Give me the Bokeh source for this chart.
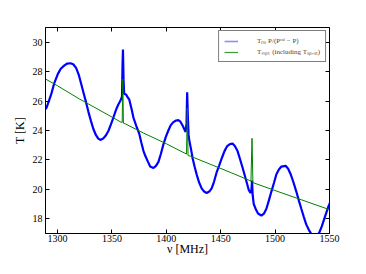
from bokeh.plotting import figure
from bokeh.models import Range1d, LinearAxis, FixedTicker, Legend, LegendItem
from bokeh.embed import file_html
from bokeh.resources import INLINE

# Blue: T_ns P / (P^cal - P)
freq_blue = [1289.0, 1290.0, 1294.2, 1297.0, 1300.3, 1303.0, 1306.4, 1309.0, 1311.9, 1314.5,
             1317.1, 1319.5, 1321.7, 1324.0, 1326.3, 1328.5, 1330.8, 1333.0, 1335.4, 1337.5,
             1339.4, 1342.0, 1344.6, 1347.0, 1349.2, 1351.5, 1353.7, 1355.8, 1357.7, 1359.3,
             1359.8, 1360.2, 1360.7, 1361.3, 1362.9, 1365.0, 1365.9, 1368.0, 1369.9, 1372.5,
             1375.1, 1377.0, 1379.0, 1380.6, 1383.0, 1385.2, 1388.2, 1390.5, 1392.8, 1395.0,
             1397.3, 1399.5, 1401.9, 1404.0, 1406.5, 1409.0, 1411.1, 1413.0, 1415.1, 1416.8,
             1417.8, 1418.6, 1419.2, 1419.8, 1420.5, 1421.1, 1422.8, 1424.3, 1426.0, 1427.9,
             1430.0, 1432.5, 1434.8, 1437.1, 1439.5, 1441.7, 1444.0, 1446.2, 1448.5, 1450.8,
             1453.5, 1456.0, 1458.5, 1460.9, 1463.0, 1465.5, 1467.6, 1470.0, 1472.2, 1474.0,
             1475.8, 1477.4, 1478.3, 1478.8, 1479.4, 1480.4, 1482.3, 1484.3, 1487.4, 1489.7,
             1492.0, 1494.3, 1496.6, 1499.0, 1501.2, 1503.5, 1505.8, 1509.7, 1512.0, 1514.3,
             1517.0, 1519.5, 1521.8, 1524.1, 1526.3, 1528.6, 1531.0, 1533.2, 1536.3, 1538.5,
             1540.8, 1543.0, 1545.4, 1549.1, 1550.5]
temp_blue = [25.45, 25.55, 26.45, 27.2, 27.83, 28.2, 28.43, 28.55, 28.57, 28.5,
             28.26, 27.8, 27.19, 26.55, 25.91, 25.25, 24.64, 24.1, 23.68, 23.45,
             23.36, 23.45, 23.68, 24.0, 24.43, 24.9, 25.38, 25.75, 26.0, 26.3,
             28.5, 29.5, 27.5, 26.5, 26.45, 26.2, 26.13, 25.5, 24.85, 24.3,
             23.79, 23.2, 22.62, 22.3, 21.9, 21.56, 21.45, 21.6, 21.87, 22.4,
             23.04, 23.55, 24.0, 24.35, 24.57, 24.68, 24.7, 24.6, 24.32, 24.05,
             23.9, 24.5, 26.6, 25.0, 23.7, 23.36, 22.7, 22.08, 21.55, 21.02,
             20.5, 20.07, 19.85, 19.75, 19.85, 20.07, 20.55, 21.13, 21.6, 22.08,
             22.6, 22.94, 23.08, 23.11, 22.95, 22.6, 22.1, 21.5, 20.92, 20.45,
             19.96, 19.75, 20.0, 20.6, 19.6, 19.0, 18.65, 18.36, 18.22, 18.35,
             18.68, 19.25, 19.85, 20.45, 21.03, 21.35, 21.55, 21.6, 21.4, 21.03,
             20.45, 19.85, 19.25, 18.68, 18.15, 17.62, 17.25, 16.98, 16.77, 16.85,
             17.09, 17.5, 18.04, 18.86, 19.1]

# Green: T_inpt (including T_sp,st)
freq_green = [1289.0, 1300.0, 1320.0, 1340.0, 1358.3, 1359.5, 1360.0, 1360.6, 1362.9, 1379.0,
              1400.0, 1417.2, 1418.6, 1419.3, 1420.0, 1422.0, 1440.0, 1460.0, 1476.7, 1477.8,
              1478.8, 1479.6, 1480.7, 1500.0, 1520.0, 1550.0]
temp_green = [27.5, 27.04, 26.15, 25.33, 24.57, 24.55, 27.5, 24.5, 24.43, 23.83,
              23.1, 22.45, 22.4, 25.5, 22.3, 22.26, 21.72, 21.12, 20.6, 20.55,
              23.47, 20.45, 20.43, 19.92, 19.4, 18.62]

x_ticks = [1300, 1350, 1400, 1450, 1500, 1550]
y_ticks = [18, 20, 22, 24, 26, 28, 30]
legend_labels = ["T\u2099\u209b P/(P\u1d9c\u1d43\u02e1 \u2212 P)",
                 "T\u1d62\u2099\u209a\u209c (including T\u209b\u209a,\u209b\u209c)"]

FONT = "Liberation Serif"

p = figure(width=350, height=258, output_backend="svg", toolbar_location=None,
           x_range=Range1d(1289, 1550), y_range=Range1d(17, 31),
           min_border_left=45, min_border_top=27, min_border_right=21, min_border_bottom=20)
p.background_fill_color = "white"
p.border_fill_color = "white"
p.outline_line_color = "black"
p.outline_line_width = 1
p.xgrid.visible = False
p.ygrid.visible = False

for ax in (p.xaxis[0], p.yaxis[0]):
    ax.major_tick_in = 4
    ax.major_tick_out = 0
    ax.minor_tick_line_color = None
    ax.axis_line_color = "black"
    ax.major_label_text_font = FONT
    ax.major_label_text_font_size = "10px"
    ax.major_label_text_color = "black"
    ax.axis_label_text_font = FONT
    ax.axis_label_text_font_size = "12px"
    ax.axis_label_text_font_style = "normal"
    ax.axis_label_text_color = "black"

p.xaxis[0].major_label_standoff = 1
p.xaxis[0].axis_label_standoff = -3
p.yaxis[0].major_label_standoff = 3
p.yaxis[0].axis_label_standoff = 3
p.xaxis[0].ticker = FixedTicker(ticks=x_ticks)
p.yaxis[0].ticker = FixedTicker(ticks=y_ticks)
p.xaxis[0].axis_label = "\u03bd [MHz]"
p.yaxis[0].axis_label = "T [K]"

top_ax = LinearAxis(ticker=FixedTicker(ticks=x_ticks))
right_ax = LinearAxis(ticker=FixedTicker(ticks=y_ticks))
for ax in (top_ax, right_ax):
    ax.major_tick_in = 4
    ax.major_tick_out = 0
    ax.minor_tick_line_color = None
    ax.axis_line_color = None
    ax.major_label_text_font_size = "1px"
    ax.major_label_text_alpha = 0
    ax.major_label_standoff = 0
p.add_layout(top_ax, "above")
p.add_layout(right_ax, "right")

r_blue = p.line(freq_blue, temp_blue, line_color="#0000ff", line_width=2.2)
r_green = p.line(freq_green, temp_green, line_color="#008000", line_width=1)

# legend-only samples (thin, as in the reference key); a single point draws nothing in the plot
k_blue = p.line(freq_blue[:1], temp_blue[:1], line_color="#8c8cff", line_width=1.6)
k_green = p.line(freq_green[:1], temp_green[:1], line_color="#3a9a3a", line_width=1.2)

legend = Legend(items=[LegendItem(label=legend_labels[0], renderers=[k_blue]),
                       LegendItem(label=legend_labels[1], renderers=[k_green])],
                location="top_right", margin=3, padding=5, spacing=2,
                label_text_font=FONT, label_text_font_size="7px",
                label_height=8, glyph_height=8, glyph_width=14, label_standoff=19,
                border_line_color="black", border_line_width=1,
                background_fill_color="white", background_fill_alpha=1)
p.add_layout(legend)

open("out.html", "w").write(file_html(p, INLINE))
